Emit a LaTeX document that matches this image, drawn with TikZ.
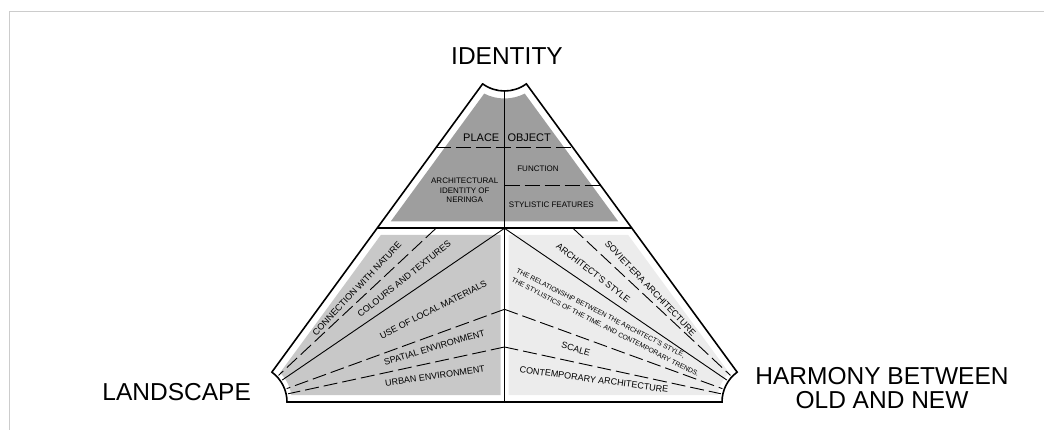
\documentclass[tikz,border=0pt]{standalone}
\usepackage{fontspec}
\setmainfont{Liberation Sans}
\usetikzlibrary{calc}
\definecolor{topgray}{HTML}{9E9E9E}
\definecolor{leftgray}{HTML}{C8C8C8}
\definecolor{rightgray}{HTML}{ECECEC}
\definecolor{framegray}{HTML}{CCCCCC}
\begin{document}
\begin{tikzpicture}[x=1pt,y=-1pt,
  outline/.style={line width=1.6pt, line join=miter},
  sepline/.style={line width=1.6pt},
  vline/.style={line width=1.2pt},
  fanline/.style={line width=0.9pt},
  fandash/.style={line width=0.9pt, dash pattern=on 14pt off 5pt},
  hdash/.style={line width=1pt, dash pattern=on 15pt off 5pt},
  title/.style={font=\fontsize{24.5}{24.4}\selectfont, inner sep=0pt, align=center},
  lab/.style={font=\fontsize{9}{10}\selectfont, inner sep=0pt},
  toplab/.style={font=\fontsize{8}{9.5}\selectfont, inner sep=0pt, align=center},
  rellab/.style={font=\fontsize{6.8}{10.5}\selectfont, inner sep=0pt, align=left},
]
\useasboundingbox (0,0) rectangle (1044,430);
% frame
\draw[line width=1pt, color=framegray] (9,430) -- (9,11.7) -- (1044,11.7);
% corners of the full triangle
\coordinate (A) at (504.5,54);
\coordinate (CL) at (250,402);
\coordinate (CR) at (759,402);
% grey fields
\fill[topgray] (390.67,221.5) -- (484.2,93.6) arc[start angle=117.1, end angle=62.9, radius=44.5] -- (618.33,221.5) -- cycle;
\fill[leftgray] (380.8,235) -- (500.5,235) -- (500.5,395) -- (291.4,395) arc[start angle=-9.59, end angle=-44.23, radius=42] -- cycle;
\fill[rightgray] (628.2,235) -- (508.5,235) -- (508.5,395) -- (717.6,395) arc[start angle=189.59, end angle=224.23, radius=42] -- cycle;
% outline
\draw[outline] (482.65,83.86) -- (271.85,372.14) arc[start angle=-53.82, end angle=0, radius=37]
  -- (722,402) arc[start angle=180, end angle=233.82, radius=37]
  -- (526.35,83.86) arc[start angle=53.82, end angle=126.18, radius=37] -- cycle;
% separators
\coordinate (sepL) at (377.03,228.3);
\coordinate (sepR) at (631.97,228.3);
\coordinate (vtop) at (504.5,91);
\coordinate (vbot) at (504.5,402);
\draw[sepline] (sepL) -- (sepR);
\draw[vline] (vtop) -- (vbot);
% top dashed lines
\coordinate (d1L) at (435.97,147.7);
\coordinate (d1R) at (573.03,147.7);
\coordinate (d2L) at (504.5,185.3);
\coordinate (d2R) at (600.5,185.3);
\draw[hdash] (d1L) -- (d1R);
\draw[hdash] (d2L) -- (d2R);
% fan lines
\coordinate (P1) at (436,228.3);
\coordinate (Q1) at (573,228.3);
\coordinate (P2) at (504.5,228.3);
\coordinate (P3) at (504.5,309.3);
\coordinate (P4) at (504.5,347);
\draw[fandash] (P1) -- ($(CL)!39pt!(P1)$);
\draw[fanline] (P2) -- ($(CL)!39pt!(P2)$);
\draw[fandash] (P3) -- ($(CL)!39pt!(P3)$);
\draw[fandash] (P4) -- ($(CL)!39pt!(P4)$);
\draw[fandash] (Q1) -- ($(CR)!39pt!(Q1)$);
\draw[fanline] (P2) -- ($(CR)!39pt!(P2)$);
\draw[fandash] (P3) -- ($(CR)!39pt!(P3)$);
\draw[fandash] (P4) -- ($(CR)!39pt!(P4)$);
% titles
\node[title] (identity) at (507,55.8) {IDENTITY};
\node[title] (landscape) at (176.7,391.7) {LANDSCAPE};
\node[title] (harmony) at (882,388) {HARMONY BETWEEN\\OLD AND NEW};
% top section labels
\node[font=\fontsize{11}{12}\selectfont, inner sep=0pt, anchor=east] (place) at (499.5,138) {PLACE};
\node[font=\fontsize{11}{12}\selectfont, inner sep=0pt, anchor=west] (object) at (507.3,138) {OBJECT};
\node[toplab] (function) at (538,169) {FUNCTION};
\node[toplab] (stylistic) at (551.3,204.8) {STYLISTIC FEATURES};
\node[toplab] (archid) at (464.7,190.7) {ARCHITECTURAL\\IDENTITY OF\\NERINGA};
% left fan labels
\node[lab, rotate=46.7] (conn) at (357,288.5) {CONNECTION WITH NATURE};
\node[lab, rotate=38.6] (colours) at (404.2,279) {COLOURS AND TEXTURES};
\node[lab, rotate=26.7] (local) at (433.3,309.8) {USE OF LOCAL MATERIALS};
\node[lab, rotate=16.5] (spatial) at (434.3,347.5) {SPATIAL ENVIRONMENT};
\node[lab, rotate=8] (urban) at (435,376) {URBAN ENVIRONMENT};
% right fan labels
\node[lab, rotate=-46.3] (soviet) at (650.5,288.3) {SOVIET-ERA ARCHITECTURE};
\node[lab, rotate=-37.9] (archstyle) at (593.3,273) {ARCHITECT'S STYLE};
\node[rellab, rotate=-27, anchor=north west] (relation) at (518,268) {THE RELATIONSHIP BETWEEN THE ARCHITECT'S STYLE,\\THE STYLISTICS OF THE TIME, AND CONTEMPORARY TRENDS.};
\node[lab, rotate=-16.1] (scale) at (575.8,349) {SCALE};
\node[lab, rotate=-7.8] (contemp) at (594,379.5) {CONTEMPORARY ARCHITECTURE};
\end{tikzpicture}
\end{document}
